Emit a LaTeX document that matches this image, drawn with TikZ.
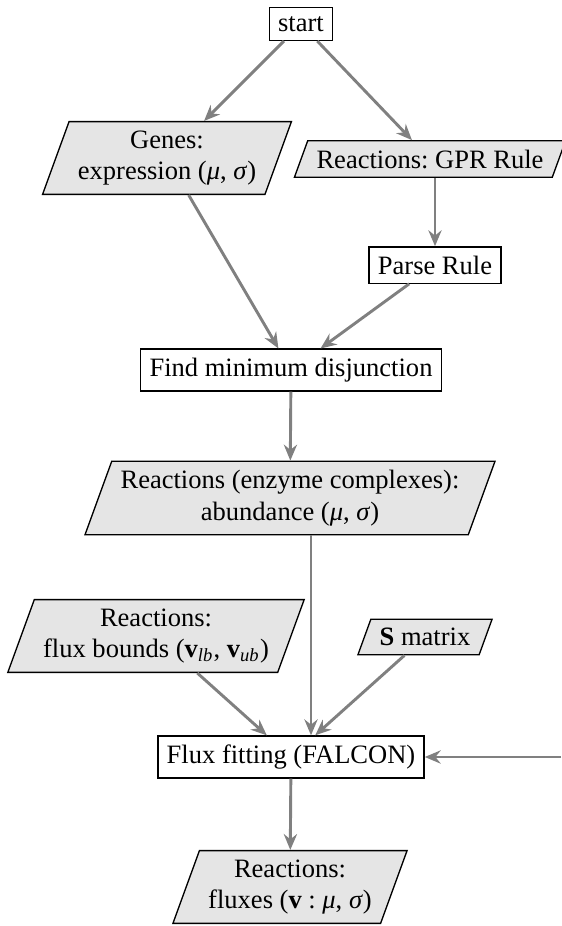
\documentclass[tikz,border=0pt]{standalone}
\usepackage{fontspec}
\setmainfont{Liberation Serif}
\usetikzlibrary{arrows.meta,shapes.geometric}
\frenchspacing
\begin{document}
\begin{tikzpicture}[x=0.377pt,y=-0.377pt,
  procbox/.style={draw=black,line width=0.5pt,fill=white,inner sep=0.333em,align=center,font=\rmfamily},
  databox/.style={trapezium,trapezium left angle=70,trapezium right angle=110,draw=black,line width=0.5pt,fill=gray!20,inner sep=0.333em,align=center,font=\rmfamily},
  arr/.style={draw=black!50,line width=1.1pt,-{Stealth[length=6pt,width=5pt,inset=2pt]}}]
\useasboundingbox (0,0) rectangle (561,926);
\node[procbox] (start) at (301,24) {start};
\node[databox] (genes) at (167,158) {Genes:\\expression (\textit{μ}, \textit{σ})};
\node[databox] (gpr) at (430,159) {Reactions: GPR Rule};
\node[procbox] (parse) at (435,265) {Parse Rule};
\node[procbox] (find) at (291,370) {Find minimum disjunction};
\node[databox] (enz) at (290,498) {Reactions (enzyme complexes):\\abundance (\textit{μ}, \textit{σ})};
\node[databox] (bounds) at (156,636) {Reactions:\\flux bounds (\textbf{v}\textsubscript{\textit{lb}}, \textbf{v}\textsubscript{\textit{ub}})};
\node[databox] (smat) at (425,637) {\textbf{S} matrix};
\node[procbox] (flux) at (291,757) {Flux fitting (FALCON)};
\node[databox] (fluxes) at (290,887) {Reactions:\\fluxes (\textbf{v} : \textit{μ}, \textit{σ})};
\coordinate (ext) at (561,757);
\coordinate (vx) at (311,757);
\draw[arr] (start) -- (genes);
\draw[arr] (start) -- (gpr);
\draw[arr] (gpr.south -| parse.north) -- (parse.north);
\draw[arr] (genes) -- (find);
\draw[arr] (parse) -- (find);
\draw[arr] (find) -- (enz);
\draw[arr] (enz.south -| vx) -- (vx |- flux.north);
\draw[arr] (bounds) -- (flux);
\draw[arr] (smat) -- (flux);
\draw[arr] (ext) -- (flux.east);
\draw[arr] (flux) -- (fluxes);
\end{tikzpicture}
\end{document}
